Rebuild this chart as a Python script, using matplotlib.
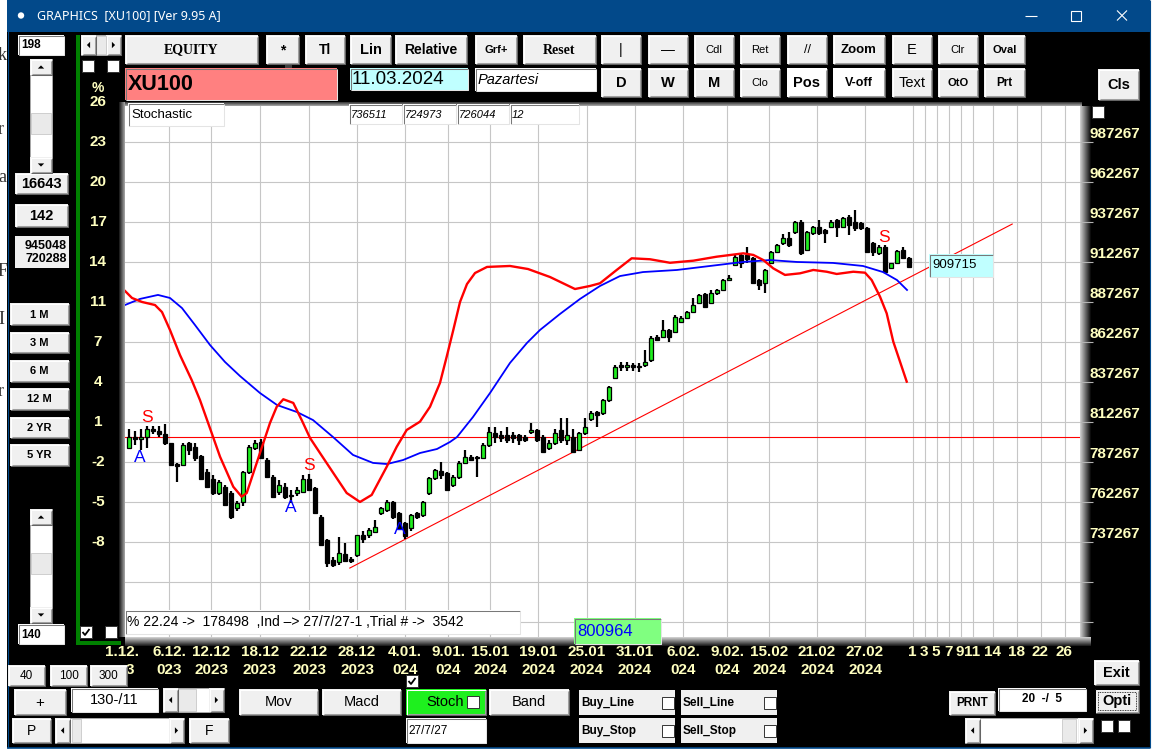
import matplotlib
matplotlib.use("Agg")
import matplotlib.pyplot as plt
from matplotlib.patches import Rectangle, Circle, Polygon
import matplotlib.transforms as mtrans

# ============================ DATA ============================
symbol = "XU100"
date_text = "11.03.2024"
day_text = "Pazartesi"
indicator_name = "Stochastic"
param_boxes = ["736511", "724973", "726044", "12"]
base_price = 800.964          # thousands, 0 % line (green box value)
base_label = "800964"
last_label = "909715"
info_text = "% 22.24 ->  178498  ,Ind \u2013> 27/7/27-1 ,Trial # ->  3542"

# daily-session candles (values in thousands of index points)
opens = [794, 801, 800, 801, 806, 805, 803, 797, 784, 783.5,
         797, 795, 789, 779, 775, 766, 770, 766, 756.4, 760.6,
         779.3, 794, 798, 786.6, 776.2, 766.8, 770, 765, 765.8, 766.8,
         775, 769, 751.2, 736.6, 724.1, 723, 728, 725, 727.2, 740,
         739.7, 741.8, 753.3, 755.4, 760.6, 753.3, 747, 743.9, 753.3, 752.2,
         765.8, 775.1, 780, 778.3, 771, 776.2, 785, 788.7, 788.7, 788.1,
         796, 803.3, 802.3, 802, 802, 802, 801.2, 804, 805.4, 801.2,
         794, 797.5, 805.4, 799.1, 801.2, 792.9, 803.3, 812.1, 816.8, 815.8,
         824.2, 837.9, 846, 845, 846, 845.5, 846, 849.1, 863.7, 863.7,
         867.9, 866.9, 873.1, 875.2, 879.4, 884.6, 890.2, 884.6, 890.8, 892.9,
         899.1, 908.5, 914.8, 914.8, 912.7, 899.1, 897, 909.6, 916.9, 922.1,
         925.2, 929.4, 935.6, 917.9, 928.3, 932.5, 930.4, 932.5, 936.7, 932.5,
         938.7, 935.6, 934.6, 931.4, 922.1, 915.8, 920, 906.5, 909.6, 917.9,
         912.7]
highs = [806, 805, 806, 808, 808, 808, 809, 797.5, 785, 797,
         798, 797, 790, 781, 777, 774, 771, 767, 761, 780,
         796, 799, 800, 788, 777, 774, 772, 768, 770, 777,
         778, 770, 752, 737, 726, 738.7, 734.5, 726, 740, 742,
         744, 749, 757, 761.6, 761, 754, 748, 753, 754, 761,
         776, 781, 785.6, 779, 777, 786, 792.9, 790, 789, 797,
         807, 807.5, 805, 807.5, 804, 803, 802, 809.6, 806, 802,
         799, 806, 812.7, 812.7, 806, 804, 812.7, 817, 817, 825,
         833, 846, 848, 848, 847.5, 847, 855.4, 864, 864.5, 874.2,
         868.5, 877, 876.5, 880, 887.7, 890.5, 891, 892.9, 893.5, 899.5,
         902.3, 914.5, 916, 920, 913.5, 900, 906, 917.5, 921.5, 928,
         929, 936, 936.5, 930, 933, 936.7, 931, 936.5, 937.5, 938.5,
         940, 942.9, 935.5, 932, 923, 921, 921, 910, 918, 920,
         913.5]
lows = [794, 796, 793, 794, 803, 801, 796, 783, 773, 783,
        790, 786, 774, 769, 765, 765, 758, 750, 755, 758,
        778, 793, 787, 775.5, 763, 765, 762, 760, 764, 766,
        767, 753, 733, 719.9, 720, 721, 723, 722, 726, 735,
        738, 741, 752, 754, 750, 743, 737.5, 742, 750, 751,
        765, 774, 775, 767, 770, 775, 784, 786, 776.2, 787,
        795, 797, 798, 797, 797, 796, 798, 803, 798, 791,
        793, 796, 797, 796, 791, 792, 802, 811, 807.5, 815,
        823, 837, 842, 842, 842.5, 841.5, 845, 848, 861, 863,
        860.6, 866, 872, 874.5, 879, 884, 882, 884, 890, 892,
        898.7, 908, 906.5, 910, 896.5, 892.9, 890.8, 909, 916, 921,
        920, 928, 915, 917, 927, 927.5, 922, 932, 926.2, 932,
        927.3, 930, 930.5, 916, 914, 915, 903.5, 906, 909, 912,
        907]
closes = [801, 800, 801, 806, 805, 803, 797, 783.5, 783, 796,
          793, 787.6, 775, 770, 766, 772.6, 758.5, 751, 759.5, 779.3,
          795, 797, 788, 776.2, 763.7, 771, 763.7, 764, 767.9, 774.5,
          768, 753.3, 733.5, 722, 721, 728.3, 723.5, 723.5, 739.7, 737,
          742.9, 745, 756.4, 760.6, 751.2, 743.9, 739, 752.2, 751.2, 760.6,
          775.1, 780.4, 777, 767.9, 776.2, 785, 788.7, 786.6, 787.6, 796,
          804, 801.2, 800.2, 799, 800.2, 799.1, 799.1, 805.4, 799.1, 791.9,
          797.5, 803.7, 799.1, 802, 791.9, 803.3, 807, 816.2, 814.8, 824.2,
          832.5, 844.7, 844.5, 846, 844.5, 844.5, 848.1, 863.1, 861.6, 867.9,
          863.7, 876.2, 875.6, 879.4, 883.5, 889.8, 882.5, 890.8, 892.9, 899.1,
          900.6, 913.7, 910, 912, 897, 896, 905.4, 916.9, 921, 925.2,
          921, 935.6, 915.8, 929.4, 932.5, 928.3, 928.3, 935.6, 932.5, 937.7,
          933.5, 931.4, 931.4, 916.9, 916.9, 920, 904.4, 909.6, 917.3, 912.7,
          907.5]

# red stochastic curve (bar index, level on price scale)
stoch_x = [-0.67, 0.5, 2.17, 4.33, 5.5, 6.83, 8.5, 10.45, 11.83, 13.78,
           15.17, 17.38, 18.78, 19.62, 21.83, 23.5, 24.62, 25.72, 27.38, 28.78,
           30.17, 31.83, 34.05, 36.28, 38.5, 40.45, 42.95, 44.62, 46.28, 48.5,
           50.17, 51.83, 52.95, 54.05, 55.17, 56.33, 57.67, 59.67, 63.5, 66.5,
           70.17, 74.33, 76.83, 78.5, 81.28, 83.78, 86.83, 90.17, 94.05, 97.95,
           102.38, 104.05, 105.72, 107.38, 109.33, 111.83, 114.05, 116.28, 117.95, 120.72,
           122.67, 123.78, 125.17, 126.28, 127.38, 128.5, 129.62]
stoch_y = [892.3, 887.9, 885.4, 883.5, 879.1, 867.9, 852.2, 836.6, 824.1, 803.5,
           788.7, 769.9, 763.7, 766.0, 791.0, 809.8, 819.9, 824.6, 822.3, 811.6,
           800.4, 791.0, 778.5, 766.0, 760.4, 764.8, 782.4, 794.9, 805.4, 810.6,
           819.9, 834.8, 851.2, 867.9, 885.4, 896.6, 903.5, 907.3, 907.9, 906.0,
           901.0, 893.5, 895.4, 897.1, 905.4, 912.7, 912.1, 909.9, 911.2, 913.7,
           915.8, 914.8, 911.6, 906.4, 902.3, 903.3, 905.4, 904.3, 902.9, 904.3,
           903.7, 899.1, 888.7, 878.3, 860.6, 848.1, 835.6]
# blue signal curve
sig_x = [-0.67, 1.83, 4.83, 6.83, 8.83, 11.0, 13.5, 16.0, 18.5, 21.83,
         24.67, 28.0, 30.67, 34.0, 37.33, 40.67, 43.0, 45.67, 48.5, 51.33,
         53.5, 54.67, 57.33, 60.17, 63.5, 66.33, 68.5, 71.83, 75.17, 78.5,
         81.83, 85.67, 91.33, 96.83, 102.33, 106.83, 111.33, 117.33, 122.33, 125.67,
         128.0, 129.67]
sig_y = [883.5, 887.3, 889.8, 887.9, 881.6, 871.0, 858.5, 847.9, 839.1, 828.5,
         821.0, 816.6, 811.6, 801.0, 789.8, 784.8, 784.1, 786.6, 791.0, 793.5,
         797.9, 801.0, 813.5, 828.5, 847.3, 859.8, 867.9, 877.9, 887.3, 895.4,
         901.6, 904.1, 905.4, 907.9, 910.4, 911.6, 910.4, 909.8, 907.9, 904.1,
         899.1, 892.9]
trend_x = [36.8, 147.2]
trend_y = [719.1, 934.1]
sell_x = [3.0, 30.0, 125.8]
sell_y = [812.9, 782.9, 926.0]
buy_x = [1.8, 27.0, 45.2]
buy_y = [788.5, 757.2, 742.9]

# axes furniture
grid_x = [6.67, 13.67, 21.83, 30.0, 38.0, 46.0, 53.17, 60.17, 68.17, 76.33,
          84.33, 92.33, 99.67, 106.67, 114.67, 122.67, 130.67, 132.67, 134.67, 136.67,
          138.67, 140.67, 144.0, 148.0, 152.0, 156.0]
grid_y = [685.1, 710.1, 735.1, 760.1, 785.1, 810.1, 835.1, 860.1, 885.1, 910.1,
          935.1, 960.1, 985.1]
price_labels = ["737267", "762267", "787267", "812267", "837267", "862267",
                "887267", "912267", "937267", "962267", "987267"]
price_label_pos = [735.1, 760.1, 785.1, 810.1, 835.1, 860.1, 885.1, 910.1, 935.1, 960.1, 985.1]
pct_labels = ["-8", "-5", "-2", "1", "4", "7", "11", "14", "17", "20", "23", "26"]
pct_label_pos = [735.1, 760.1, 785.1, 810.1, 835.1, 860.1, 885.1, 910.1, 935.1, 960.1, 985.1, 1010.1]
date_pos = [-1.25] + grid_x[:16]
date_pos2 = [0.22] + grid_x[:16]
date_line1 = ["1.12.", "6.12.", "12.12", "18.12", "22.12", "28.12", "4.01.", "9.01.", "15.01",
              "19.01", "25.01", "31.01", "6.02.", "9.02.", "15.02", "21.02", "27.02"]
date_line2 = ["3", "023", "2023", "2023", "2023", "2023", "024", "024", "2024",
              "2024", "2024", "2024", "024", "024", "2024", "2024", "2024"]
future_pos = grid_x[16:]
future_labels = ["1", "3", "5", "7", "9", "11", "14", "18", "22", "26"]

# ============================ STYLE ============================
W, H = 1153, 755
SANS = ['Liberation Sans', 'DejaVu Sans']
NARROW = ['Liberation Sans Narrow', 'Liberation Sans', 'DejaVu Sans']
SERIF = ['Liberation Serif', 'DejaVu Serif']
TITLEF = ['Noto Sans', 'DejaVu Sans']
FACE = '#F0F0F0'
YEL = '#FFFFC0'
GRID = '#C6C6C6'
BLUEBAR = '#02498A'

fig = plt.figure(figsize=(W / 100, H / 100), dpi=100)
fig.patch.set_facecolor('white')
bg = fig.add_axes([0, 0, 1, 1], zorder=0)
bg.set_xlim(0, W); bg.set_ylim(H, 0); bg.axis('off')
ov = fig.add_axes([0, 0, 1, 1], zorder=5)
ov.set_xlim(0, W); ov.set_ylim(H, 0); ov.axis('off')
ov.patch.set_alpha(0)


def R(a, x0, y0, x1, y1, fc, ec='none', lw=0.0, z=1.0, ls='-'):
    a.add_patch(Rectangle((x0, y0), x1 - x0, y1 - y0, facecolor=fc,
                          edgecolor=ec, linewidth=lw, zorder=z, linestyle=ls))


def L(a, xs, ys, c, lw=0.75, z=1.0):
    a.plot(xs, ys, color=c, lw=lw, zorder=z, solid_capstyle='butt')


def T(a, x, y, s, fs, c='black', fam=SANS, w='normal', st='normal', ha='center', va='center', z=3.0):
    a.text(x, y, s, fontsize=fs, color=c, family=fam, fontweight=w, style=st,
           ha=ha, va=va, zorder=z)


def raised(a, x0, y0, x1, y1, fc=FACE, z=2.0):
    R(a, x0, y0, x1, y1, fc, z=z)
    L(a, [x0 + 0.5, x0 + 0.5, x1 - 0.5], [y1 - 0.5, y0 + 0.5, y0 + 0.5], 'white', 0.75, z + 0.01)
    L(a, [x0 + 0.5, x1 - 0.5, x1 - 0.5], [y1 - 0.5, y1 - 0.5, y0 + 0.5], '#646464', 0.75, z + 0.01)
    L(a, [x0 + 1.5, x1 - 1.5, x1 - 1.5], [y1 - 1.5, y1 - 1.5, y0 + 1.5], '#A0A0A0', 0.75, z + 0.01)


def button(a, x0, y0, x1, y1, s, fs=9, w='normal', fam=SANS, fc=FACE, c='black', z=2.0):
    raised(a, x0, y0, x1, y1, fc, z)
    T(a, (x0 + x1) / 2, (y0 + y1) / 2 + 0.5, s, fs, c, fam, w, z=z + 0.05)


def sunken(a, x0, y0, x1, y1, fc='white', z=2.0):
    R(a, x0, y0, x1, y1, fc, z=z)
    L(a, [x0 + 0.5, x0 + 0.5, x1 - 0.5], [y1 - 0.5, y0 + 0.5, y0 + 0.5], '#787878', 0.75, z + 0.01)
    L(a, [x0 + 0.5, x1 - 0.5, x1 - 0.5], [y1 - 0.5, y1 - 0.5, y0 + 0.5], '#E4E4E4', 0.75, z + 0.01)


def checkbox(a, x0, y0, s=12, checked=False, z=3.0):
    R(a, x0, y0, x0 + s, y0 + s, 'white', '#333333', 0.7, z)
    if checked:
        L(a, [x0 + 2.5, x0 + 5, x0 + 9.5], [y0 + 6, y0 + 9, y0 + 3], 'black', 1.3, z + 0.1)


def tri(a, cx, cy, d, s=3.2, z=3.0):
    if d == 'up':
        pts = [(cx - s, cy + s / 2), (cx + s, cy + s / 2), (cx, cy - s / 2)]
    elif d == 'down':
        pts = [(cx - s, cy - s / 2), (cx + s, cy - s / 2), (cx, cy + s / 2)]
    elif d == 'left':
        pts = [(cx + s / 2, cy - s), (cx + s / 2, cy + s), (cx - s / 2, cy)]
    else:
        pts = [(cx - s / 2, cy - s), (cx - s / 2, cy + s), (cx + s / 2, cy)]
    a.add_patch(Polygon(pts, closed=True, facecolor='black', edgecolor='none', zorder=z))


def vscroll(a, x0, y0, x1, y1, t0, t1, z=2.0):
    R(a, x0, y0, x1, y1, 'white', '#B0B0B0', 0.6, z)
    raised(a, x0, y0, x1, y0 + 16, FACE, z + 0.1)
    tri(a, (x0 + x1) / 2, y0 + 8, 'up', z=z + 0.3)
    raised(a, x0, y1 - 16, x1, y1, FACE, z + 0.1)
    tri(a, (x0 + x1) / 2, y1 - 8, 'down', z=z + 0.3)
    R(a, x0 + 1, t0, x1 - 1, t1, '#EAEAEA', '#C8C8C8', 0.6, z + 0.1)


def hscroll(a, x0, y0, x1, y1, t0, t1, z=2.0):
    R(a, x0, y0, x1, y1, 'white', '#B0B0B0', 0.6, z)
    raised(a, x0, y0, x0 + 15, y1, FACE, z + 0.1)
    tri(a, x0 + 7.5, (y0 + y1) / 2, 'left', z=z + 0.3)
    raised(a, x1 - 15, y0, x1, y1, FACE, z + 0.1)
    tri(a, x1 - 7.5, (y0 + y1) / 2, 'right', z=z + 0.3)
    R(a, t0, y0 + 1, t1, y1 - 1, '#EAEAEA', '#C8C8C8', 0.6, z + 0.1)


# ---------------- window frame ----------------
for yy, ch in [(55, 'k'), (130, 'r'), (178, 'a'), (272, 'F'), (320, 'I'), (392, 'r')]:
    T(bg, -2, yy, ch, 13, '#333333', SERIF, ha='left', z=0.2)
R(bg, 7, 32, 1150, 748, 'black', z=0.5)
R(bg, 7, 0, 1150, 32, BLUEBAR, z=0.6)
L(bg, [7.5, 7.5], [0, 748], BLUEBAR, 0.8, 0.7)
L(bg, [1150, 1150], [0, 748], BLUEBAR, 0.8, 0.7)
L(bg, [7, 1150], [747.5, 747.5], BLUEBAR, 1.2, 0.7)
bg.add_patch(Circle((21, 15.5), 3.2, facecolor='white', edgecolor='none', zorder=1))
T(bg, 37, 16, "GRAPHICS  [XU100] [Ver 9.95 A]", 9, 'white', TITLEF, ha='left')
L(bg, [1025, 1037], [16, 16], 'white', 0.8, 1)
R(bg, 1071, 10.5, 1081, 20.5, 'none', 'white', 0.8, 1)
L(bg, [1117, 1127], [10.5, 20.5], 'white', 0.8, 1)
L(bg, [1117, 1127], [20.5, 10.5], 'white', 0.8, 1)

# ---------------- left panel ----------------
sunken(bg, 18, 35, 64, 55)
T(bg, 21, 45.5, "198", 8.5, w='bold', ha='left')
hscroll(bg, 81, 35, 121, 55, 96, 106)
checkbox(bg, 82, 60)
checkbox(bg, 107, 60)
vscroll(bg, 30, 59, 52, 173, 113, 134)
button(bg, 15, 173, 68, 194, "16643", 10.5, 'bold')
button(bg, 15, 204, 68, 227, "142", 10.5, 'bold')
R(bg, 15, 236, 69, 268, FACE, z=2)
T(bg, 67, 246, "945048", 9, w='bold', ha='right')
T(bg, 67, 259.5, "720288", 9, w='bold', ha='right')
for (yy0, yy1, s) in [(303, 325, "1 M"), (332, 353, "3 M"), (360, 382, "6 M"),
                      (388, 410, "12 M"), (417, 438, "2 YR"), (444, 466, "5 YR")]:
    button(bg, 10, yy0, 69, yy1, s, 8, 'bold')
vscroll(bg, 30, 509, 52, 623, 553, 574)
sunken(bg, 18, 624, 64, 644)
T(bg, 21, 634.5, "140", 8.5, w='bold', ha='left')
R(bg, 75.5, 35, 79.5, 645, '#008000', z=1)
R(bg, 75.5, 641, 121, 645, '#008000', z=1)
checkbox(bg, 80, 626, checked=True)
checkbox(bg, 105, 626)
T(bg, 98, 88, "%", 10, YEL, NARROW, 'bold')

# ---------------- top toolbar ----------------
row1 = [(125, 258, "EQUITY", SERIF, 'bold', 10), (266, 299, "*", SANS, 'bold', 10),
        (305, 345, "Tl", SANS, 'bold', 10), (350, 391, "Lin", SANS, 'bold', 10.5),
        (395, 467, "Relative", SANS, 'bold', 10), (475, 517, "Grf+", SANS, 'bold', 8),
        (523, 596, "Reset", SERIF, 'bold', 10), (601, 641, "|", SANS, 'normal', 10),
        (648, 688, "\u2014", SANS, 'normal', 10), (694, 734, "Cdl", SANS, 'normal', 8),
        (740, 780, "Ret", SANS, 'normal', 8), (787, 827, "//", SANS, 'normal', 9),
        (833, 885, "Zoom", SANS, 'bold', 9.5), (892, 932, "E", SANS, 'normal', 10.5),
        (938, 978, "Clr", SANS, 'normal', 8), (984, 1025, "Oval", SANS, 'bold', 8)]
for x0, x1, s, fam, w, fs in row1:
    button(bg, x0, 35, x1, 64, s, fs, w, fam)
R(bg, 285, 64, 292, 67.5, '#404040', z=2)
row2 = [(601, 641, "D", 'bold', 10.5, FACE), (648, 688, "W", 'bold', 10.5, FACE),
        (694, 734, "M", 'bold', 10.5, FACE), (740, 780, "Clo", 'normal', 8, FACE),
        (787, 827, "Pos", 'bold', 10.5, 'white'), (833, 885, "V-off", 'bold', 9, 'white'),
        (892, 932, "Text", 'normal', 10.5, FACE), (938, 978, "OtO", 'bold', 8, FACE),
        (984, 1025, "Prt", 'bold', 8.5, FACE)]
for x0, x1, s, w, fs, fc in row2:
    button(bg, x0, 68, x1, 97, s, fs, w, SANS, fc)
button(bg, 1098, 69, 1139, 100, "Cls", 10.5, 'bold')
sunken(bg, 125, 68, 337, 100, '#FF8080')
T(bg, 128, 85, symbol, 15.5, w='bold', ha='left')
sunken(bg, 350, 68, 468, 90, '#C0FFFF')
T(bg, 352, 79.5, date_text, 13.5, ha='left')
sunken(bg, 475, 68, 596, 91, 'white')
T(bg, 478, 80, day_text, 10.5, st='italic', ha='left')
checkbox(bg, 1092, 106)

# ---------------- chart shadows ----------------
axL, axR, axT, axB = 125, 1080, 105.5, 637
for j in range(11):
    g = 0.80 - j * 0.075
    R(bg, axR + j, axT, axR + j + 1, axB + 9, (g, g, g), z=1)
for j in range(9):
    g = 0.80 - j * 0.085
    R(bg, axL, axB + j, axR + 11, axB + j + 1, (g, g, g), z=1)
for j in range(6):
    g = 0.12 + j * 0.1
    R(bg, axL - 6 + j, axT - 4, axL - 5 + j, axB, (g, g, g), z=1.1)
for j in range(4):
    g = 0.25 + j * 0.12
    R(bg, axL - 6, axT - 4 + j, axR + 2, axT - 3 + j, (g, g, g), z=1)

# ---------------- chart axes ----------------
ax = fig.add_axes([axL / W, 1 - axB / H, (axR - axL) / W, (axB - axT) / H], zorder=2)
ax.set_facecolor('white')
ax.set_xlim(-0.667, 158.5)
ax.set_ylim(676.0, 1008.2)
for sp in ax.spines.values():
    sp.set_visible(False)
ax.set_xticks([])
ax.set_yticks(grid_y)
ax.yaxis.set_ticks_position('right')
ax.tick_params(axis='y', direction='out', length=9, width=0.8, color='#B4B4B4',
               labelright=False, labelleft=False)
for gx in grid_x:
    ax.axvline(gx, color=GRID, lw=0.8, zorder=0.5)
for gy in grid_y:
    ax.axhline(gy, color=GRID, lw=0.8, zorder=0.5)
ax.axhline(base_price, color='#FF0000', lw=0.8, zorder=1)
ax.plot(trend_x, trend_y, color='#FF0000', lw=0.8, zorder=1.2)

n = min(len(opens), len(highs), len(lows), len(closes))
xs = list(range(n))
ax.vlines(xs, lows[:n], highs[:n], color='black', lw=1.6, zorder=3)
for i in range(n):
    o, c = opens[i], closes[i]
    up = c >= o
    lo = min(o, c)
    hgt = max(abs(c - o), 0.8)
    ax.add_patch(Rectangle((i - 0.4, lo), 0.8, hgt,
                           facecolor='#1EEE1E' if up else 'black',
                           edgecolor='black', linewidth=0.9, zorder=3.2))
ax.plot(sig_x, sig_y, color='#0000FF', lw=1.3, zorder=4)
ax.plot(stoch_x, stoch_y, color='#FF0000', lw=1.7, zorder=4.1)
for x, y in zip(sell_x, sell_y):
    ax.text(x, y, "S", color='#FF0000', fontsize=12.5, family=SANS, ha='center', va='center', zorder=5)
for x, y in zip(buy_x, buy_y):
    ax.text(x, y, "A", color='#0000FF', fontsize=12.5, family=SANS, ha='center', va='center', zorder=5)

# right price labels and left percent labels
tr_r = mtrans.offset_copy(mtrans.blended_transform_factory(bg.transData, ax.transData),
                          fig=fig, x=0, y=8.7, units='dots')
for v, s in zip(price_label_pos, price_labels):
    ax.text(1115, v, s, transform=tr_r, fontsize=11, color=YEL, family=NARROW,
            fontweight='bold', ha='center', va='center', clip_on=False)
tr_l = mtrans.blended_transform_factory(bg.transData, ax.transData)
for v, s in zip(pct_label_pos, pct_labels):
    ax.text(98, v, s, transform=tr_l, fontsize=11, color=YEL, family=NARROW,
            fontweight='bold', ha='center', va='center', clip_on=False)
tr_d = mtrans.blended_transform_factory(ax.transData, bg.transData)
for p, s1 in zip(date_pos, date_line1):
    ax.text(p, 652, s1, transform=tr_d, fontsize=11, color=YEL, family=NARROW,
            fontweight='bold', ha='center', va='center', clip_on=False)
for p, s2 in zip(date_pos2, date_line2):
    ax.text(p, 669.5, s2, transform=tr_d, fontsize=11, color=YEL, family=NARROW,
            fontweight='bold', ha='center', va='center', clip_on=False)
for p, s in zip(future_pos, future_labels):
    ax.text(p - 0.15, 652, s, transform=tr_d, fontsize=11, color=YEL, family=NARROW,
            fontweight='bold', ha='center', va='center', clip_on=False)

# ---------------- overlays inside the chart ----------------
sunken(ov, 128, 103, 224, 126)
T(ov, 131, 114.5, indicator_name, 9.5, ha='left')
for (x0, x1), s in zip([(349, 402), (403, 456), (457, 509), (510, 579)], param_boxes):
    sunken(ov, x0, 104, x1, 124)
    T(ov, x0 + 2, 114.5, s, 8, st='italic', ha='left')
sunken(ov, 125, 610, 520, 634)
T(ov, 127, 621.5, info_text, 10, ha='left')
sunken(ov, 574, 618, 661, 644, '#80FF80')
T(ov, 577, 631, base_label, 12, '#0000FF', ha='left')
sunken(ov, 929, 254, 993, 277, '#C0FFFF')
T(ov, 932, 265.5, last_label, 9.5, ha='left')

# ---------------- bottom controls ----------------
button(ov, 8, 665, 45, 686, "40", 8.5)
button(ov, 50, 665, 87, 686, "100", 8.5)
button(ov, 90, 665, 127, 686, "300", 8.5)
button(ov, 14, 689, 66, 715, "+", 11)
sunken(ov, 71, 688, 158, 712)
T(ov, 114.5, 700, "130-/11", 10.5)
hscroll(ov, 163, 688, 224, 712, 178, 196)
button(ov, 12, 718, 51, 743, "P", 10)
hscroll(ov, 55, 718, 184, 743, 72, 81)
button(ov, 189, 718, 229, 743, "F", 10)
button(ov, 239, 689, 318, 715, "Mov", 10.5)
button(ov, 322, 689, 401, 715, "Macd", 10.5)
raised(ov, 406, 689, 486, 715, '#1EF01E')
T(ov, 445, 702.5, "Stoch", 10.5, ha='center')
checkbox(ov, 467, 696)
button(ov, 489, 689, 569, 715, "Band", 10.5)
checkbox(ov, 406, 675, checked=True)
sunken(ov, 406, 718, 486, 743)
T(ov, 408, 730.5, "27/7/27", 8.5, fam=NARROW, ha='left')
for x0, x1, y0, y1, s in [(579, 675, 690, 715, "Buy_Line"), (681, 777, 690, 715, "Sell_Line"),
                          (579, 675, 718, 743, "Buy_Stop"), (681, 777, 718, 743, "Sell_Stop")]:
    R(ov, x0, y0, x1, y1, FACE, z=2)
    T(ov, x0 + 2, (y0 + y1) / 2 + 0.5, s, 8.5, w='bold', fam=NARROW, ha='left')
    checkbox(ov, x1 - 13, (y0 + y1) / 2 - 6)
button(ov, 949, 691, 995, 715, "PRNT", 8.5, 'bold', NARROW)
sunken(ov, 998, 688, 1086, 711)
T(ov, 1042, 699.5, "20  -/  5", 8.5, w='bold')
button(ov, 1094, 660, 1139, 685, "Exit", 10.5, 'bold', NARROW)
raised(ov, 1095, 689, 1139, 713)
R(ov, 1094.5, 688.5, 1139.5, 713.5, 'none', 'black', 0.8, 2.1)
R(ov, 1098, 692, 1136, 710, 'none', 'black', 0.6, 2.2, ls=(0, (1, 1)))
T(ov, 1117, 701.5, "Opti", 10.5, w='bold', fam=NARROW)
hscroll(ov, 965, 718, 1093, 743, 1062, 1076)
checkbox(ov, 1101, 720)
checkbox(ov, 1118, 720)

fig.savefig("out.png", dpi=100, facecolor=fig.get_facecolor())
